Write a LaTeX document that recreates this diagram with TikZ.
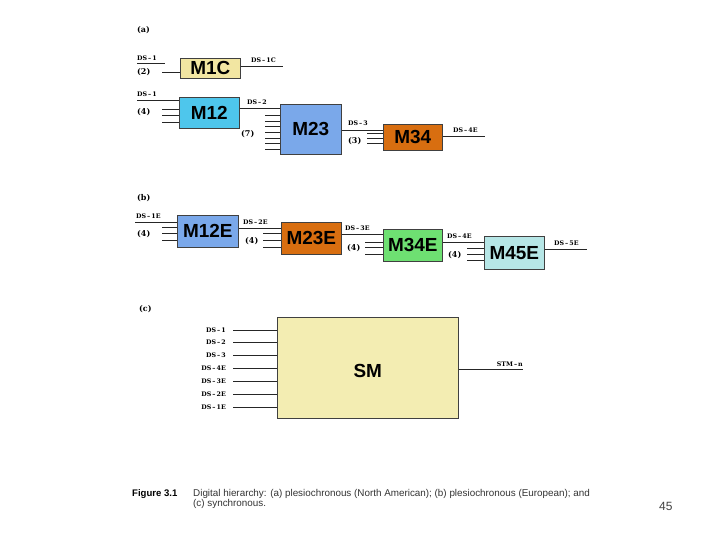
\documentclass[tikz,border=0pt]{standalone}
\usepackage{fontspec}
\setmainfont{DejaVu Serif}
\setsansfont{Liberation Sans}
\usetikzlibrary{positioning}
\definecolor{paleyel}{HTML}{F2E6A2}
\definecolor{smyel}{HTML}{F3EDB2}
\definecolor{cyanbox}{HTML}{4EC6EC}
\definecolor{bluebox}{HTML}{7AA8EA}
\definecolor{orangebox}{HTML}{D86E10}
\definecolor{greenbox}{HTML}{6EE072}
\definecolor{lcyanbox}{HTML}{B6E6E6}

\begin{document}
\begin{tikzpicture}[x=1bp, y=-1bp,
      blk/.style={draw=black!75, line width=0.6pt, anchor=north west, inner sep=0pt,
                  font=\sffamily\bfseries\fontsize{19}{19}\selectfont},
      ln/.style={line width=0.8pt, black!85},
      lbl/.style={font=\bfseries\fontsize{6.3}{7}\selectfont, inner sep=0pt, anchor=base west},
      part/.style={font=\bfseries\fontsize{8}{9}\selectfont, inner sep=0pt, anchor=base west},
      captxt/.style={font=\sffamily\fontsize{9.9}{10}\selectfont, inner sep=0pt, anchor=base west, black!80}
    ]
      \useasboundingbox (0,0) rectangle (720,540);

      % (a) plesiochronous, North American
      \node[part] (pa) at (137,33) {(a)};
      \node[blk, fill=paleyel, minimum width=60bp, minimum height=20bp] (m1c) at (180,58) {M1C};
      \node[blk, fill=cyanbox, minimum width=60bp, minimum height=31bp] (m12) at (179,97) {M12};
      \node[blk, fill=bluebox, minimum width=61bp, minimum height=50bp] (m23) at (280,104) {M23};
      \node[blk, fill=orangebox, minimum width=59bp, minimum height=26bp] (m34) at (383,124) {M34};

      \node[lbl] (ds1a) at (137,61) {DS\,--\,1};
      \node[part] (n2) at (137,75) {(2)};
      \coordinate (u1) at (137,63);
      \coordinate (u2) at (165,63);
      \draw[ln] (u1) -- (u2);
      \coordinate (i1c) at (162,72);
      \draw[ln] (i1c) -- (i1c -| m1c.west);
      \coordinate (o1c) at (283,66);
      \draw[ln] (o1c -| m1c.east) -- (o1c);
      \node[lbl] (ds1c) at (251,63) {DS\,--\,1C};

      \node[lbl] (ds1b) at (137,97) {DS\,--\,1};
      \coordinate (u3) at (137,100);
      \draw[ln] (u3) -- (u3 -| m12.west);
      \node[part] (n4a) at (137,115) {(4)};
      \foreach \y [count=\i] in {109,115,122} {
        \coordinate (a\i) at (162,\y);
        \draw[ln] (a\i) -- (a\i -| m12.west);
      }
      \coordinate (o12) at (260,108);
      \draw[ln] (o12 -| m12.east) -- (o12 -| m23.west);
      \node[lbl] (ds2) at (247,105) {DS\,--\,2};

      \node[part] (n7) at (241,137) {(7)};
      \foreach \y [count=\i] in {115,121,126,132,138,143,149} {
        \coordinate (b\i) at (265,\y);
        \draw[ln] (b\i) -- (b\i -| m23.west);
      }
      \coordinate (o23) at (360,130);
      \draw[ln] (o23 -| m23.east) -- (o23 -| m34.west);
      \node[lbl] (ds3) at (348,126) {DS\,--\,3};

      \node[part] (n3) at (348,144) {(3)};
      \foreach \y [count=\i] in {133,138,143} {
        \coordinate (c\i) at (367,\y);
        \draw[ln] (c\i) -- (c\i -| m34.west);
      }
      \coordinate (o34) at (485,136);
      \draw[ln] (o34 -| m34.east) -- (o34);
      \node[lbl] (ds4e) at (453,133) {DS\,--\,4E};

      % (b) plesiochronous, European
      \node[part] (pb) at (137,201) {(b)};
      \node[blk, fill=bluebox, minimum width=61bp, minimum height=32bp] (m12e) at (177,215) {M12E};
      \node[blk, fill=orangebox, minimum width=60bp, minimum height=32bp] (m23e) at (281,222) {M23E};
      \node[blk, fill=greenbox, minimum width=59bp, minimum height=32bp] (m34e) at (383,229) {M34E};
      \node[blk, fill=lcyanbox, minimum width=60bp, minimum height=33bp] (m45e) at (484,236) {M45E};

      \node[lbl] (ds1e) at (136,219) {DS\,--\,1E};
      \coordinate (u4) at (135,222);
      \draw[ln] (u4) -- (u4 -| m12e.west);
      \node[part] (n4b) at (137,237) {(4)};
      \foreach \y [count=\i] in {227,233,240} {
        \coordinate (d\i) at (162,\y);
        \draw[ln] (d\i) -- (d\i -| m12e.west);
      }
      \coordinate (o12e) at (260,228);
      \draw[ln] (o12e -| m12e.east) -- (o12e -| m23e.west);
      \node[lbl] (ds2e) at (243,225) {DS\,--\,2E};

      \node[part] (n4c) at (245,244) {(4)};
      \foreach \y [count=\i] in {233,240,247} {
        \coordinate (e\i) at (263,\y);
        \draw[ln] (e\i) -- (e\i -| m23e.west);
      }
      \coordinate (o23e) at (360,234);
      \draw[ln] (o23e -| m23e.east) -- (o23e -| m34e.west);
      \node[lbl] (ds3e) at (345,231) {DS\,--\,3E};

      \node[part] (n4d) at (347,251) {(4)};
      \foreach \y [count=\i] in {242,247,254} {
        \coordinate (f\i) at (365,\y);
        \draw[ln] (f\i) -- (f\i -| m34e.west);
      }
      \coordinate (o34e) at (460,242);
      \draw[ln] (o34e -| m34e.east) -- (o34e -| m45e.west);
      \node[lbl] (ds4eb) at (447,239) {DS\,--\,4E};

      \node[part] (n4e) at (448,258) {(4)};
      \foreach \y [count=\i] in {248,254,260} {
        \coordinate (g\i) at (467,\y);
        \draw[ln] (g\i) -- (g\i -| m45e.west);
      }
      \coordinate (o45e) at (587,249);
      \draw[ln] (o45e -| m45e.east) -- (o45e);
      \node[lbl] (ds5e) at (554,246) {DS\,--\,5E};

      % (c) synchronous
      \node[part] (pc) at (139,311) {(c)};
      \node[blk, fill=smyel, minimum width=181bp, minimum height=101bp] (sm) at (277,317) {\raisebox{-10bp}[0pt][0pt]{SM}};
      \foreach \y/\t [count=\i] in {330/DS\,--\,1, 342/DS\,--\,2, 355/DS\,--\,3, 368/DS\,--\,4E,
                                    381/DS\,--\,3E, 394/DS\,--\,2E, 407/DS\,--\,1E} {
        \coordinate (s\i) at (233,\y);
        \draw[ln] (s\i) -- (s\i -| sm.west);
        \node[lbl, anchor=base east] (sl\i) at (226,\y+2) {\t};
      }
      \coordinate (osm) at (523,369);
      \draw[ln] (osm -| sm.east) -- (osm);
      \node[lbl, anchor=base east] (stm) at (523,366) {STM\,--\,n};

      % caption
      \node[captxt, font=\sffamily\bfseries\fontsize{9.6}{10}\selectfont, black] (fig) at (132,496) {Figure 3.1};
      \node[captxt] (c1) at (193,496) {Digital hierarchy: (a) plesiochronous (North American); (b) plesiochronous (European); and};
      \node[captxt] (c2) at (193,506) {(c) synchronous.};
      \node[captxt, font=\sffamily\fontsize{12}{12}\selectfont, black!75] (pg) at (659,510) {45};
    \end{tikzpicture}
\end{document}
